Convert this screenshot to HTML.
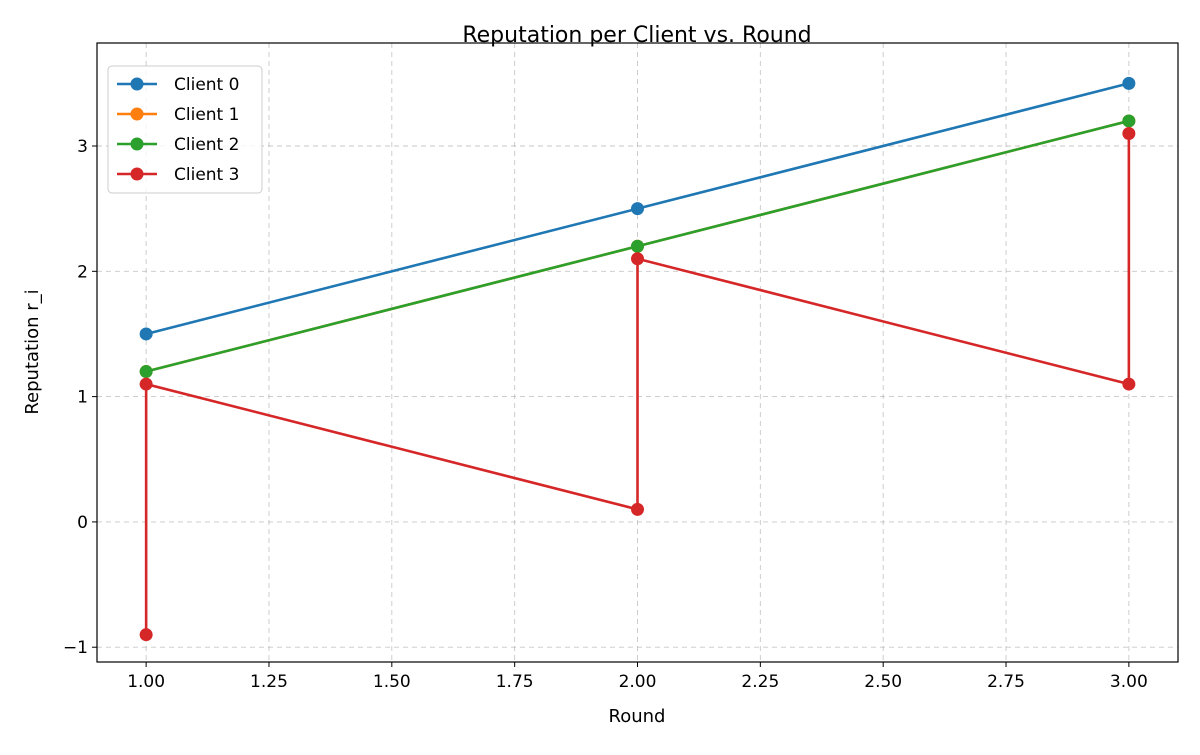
<!DOCTYPE html>
<html><head><meta charset="utf-8"><style>
body{margin:0;background:#fff;}
svg text{font-family:"DejaVu Sans","Liberation Sans",sans-serif;fill:#000;}
</style></head><body>
<svg id="chart" width="1200" height="750">
<rect width="1200" height="750" fill="#fff"/>
<g id="grid"></g>
<g id="series"></g>
<rect x="97" y="43" width="1081" height="619" fill="none" stroke="#000" stroke-width="1.2"/>
<g id="axes"></g>
<text x="637" y="42" font-size="22" text-anchor="middle">Reputation per Client vs. Round</text>
<text x="637" y="722" font-size="18" text-anchor="middle">Round</text>
<text x="38" y="352" font-size="18" text-anchor="middle" transform="rotate(-90 38 352)">Reputation r_i</text>
<g id="legend"></g>
</svg>
<script>
const seriesNames=["Client 0","Client 1","Client 2","Client 3"];
const colors=["#1f77b4","#ff7f0e","#2ca02c","#d62728"];
const client0X=[1,2,3];const client0Y=[1.5,2.5,3.5];
const client1X=[1,2,3];const client1Y=[1.2,2.2,3.2];
const client2X=[1,2,3];const client2Y=[1.2,2.2,3.2];
const client3X=[1,1,2,2,3,3];const client3Y=[-0.9,1.1,0.1,2.1,1.1,3.1];
const xTicks=[1.00,1.25,1.50,1.75,2.00,2.25,2.50,2.75,3.00];
const yTicks=[-1,0,1,2,3];
const NS="http://www.w3.org/2000/svg";
const L=97,R=1178,T=43,B=662;
const xMin=0.9,xMax=3.1,yMin=-1.118,yMax=3.822;
function sx(v){return L+(v-xMin)/(xMax-xMin)*(R-L);}
function sy(v){return B-(v-yMin)/(yMax-yMin)*(B-T);}
function mk(tag,attrs,parent){const e=document.createElementNS(NS,tag);for(const k in attrs)e.setAttribute(k,attrs[k]);parent.appendChild(e);return e;}
const grid=document.getElementById('grid'),axes=document.getElementById('axes'),ser=document.getElementById('series'),leg=document.getElementById('legend');
xTicks.forEach(t=>{const x=sx(t);
 const g=mk('line',{x1:x,x2:x,y1:T,y2:B,stroke:'#b0b0b0','stroke-dasharray':'5,4','stroke-width':0.9,opacity:0.7},grid);
 
 mk('line',{x1:x,x2:x,y1:B,y2:B+5,stroke:'#000'},axes);
 const tx=mk('text',{x:x,y:B+25,'font-size':17,'text-anchor':'middle'},axes);tx.textContent=t.toFixed(2);
 });
yTicks.forEach(t=>{const y=sy(t);
 const g=mk('line',{x1:L,x2:R,y1:y,y2:y,stroke:'#b0b0b0','stroke-dasharray':'5,4','stroke-width':0.9,opacity:0.7},grid);
 
 mk('line',{x1:L-5,x2:L,y1:y,y2:y,stroke:'#000'},axes);
 const tx=mk('text',{x:L-9,y:y+6,'font-size':17,'text-anchor':'end'},axes);tx.textContent=t<0?'\u2212'+Math.abs(t):t;
 });
const allX=[client0X,client1X,client2X,client3X],allY=[client0Y,client1Y,client2Y,client3Y];
allX.forEach((xs,i)=>{const g=mk('g',{},ser);
 
 const pts=xs.map((x,j)=>sx(x)+','+sy(allY[i][j])).join(' ');
 mk('polyline',{points:pts,fill:'none',stroke:colors[i],'stroke-width':2.6},g);
 xs.forEach((x,j)=>{const c=mk('circle',{cx:sx(x),cy:sy(allY[i][j]),r:6.5,fill:colors[i]},g);
  });});
const lb=mk('rect',{x:108,y:66,width:154,height:127,rx:4,fill:'#fff','fill-opacity':0.8,stroke:'#ccc'},leg);

seriesNames.forEach((n,i)=>{const y=84+i*30;const g=mk('g',{},leg);
 
 mk('line',{x1:117,x2:157,y1:y,y2:y,stroke:colors[i],'stroke-width':2.6},g);
 mk('circle',{cx:137,cy:y,r:6.5,fill:colors[i]},g);
 const t=mk('text',{x:174,y:y+6,'font-size':17},g);t.textContent=n;});
</script>
</body></html>
